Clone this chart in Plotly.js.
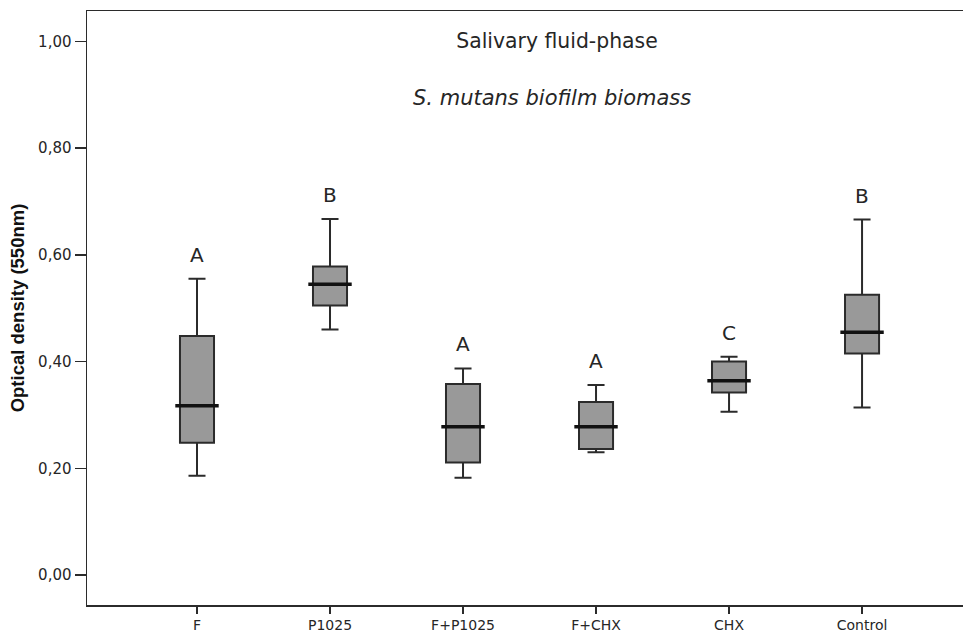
<!DOCTYPE html>
<html>
<head>
<meta charset="utf-8">
<script src="https://cdn.plot.ly/plotly-3.0.1.min.js"></script>
<style>html,body{margin:0;padding:0;background:#fff;}#chart{width:963px;height:633px;}</style>
</head>
<body>
<div id="chart"></div>
<script>
// Data
const categories = ['F', 'P1025', 'F+P1025', 'F+CHX', 'CHX', 'Control'];
const lowerWhisker = [0.186, 0.460, 0.182, 0.230, 0.306, 0.314];
const q1Values     = [0.248, 0.505, 0.211, 0.236, 0.342, 0.415];
const medianValues = [0.317, 0.545, 0.278, 0.278, 0.364, 0.455];
const q3Values     = [0.448, 0.578, 0.358, 0.324, 0.400, 0.525];
const upperWhisker = [0.555, 0.667, 0.387, 0.356, 0.409, 0.666];
const groupLetters = ['A', 'B', 'A', 'A', 'C', 'B'];
const yTickValues  = [0, 0.2, 0.4, 0.6, 0.8, 1.0];

const txt = '#262626';
const lineC = '#2b2b2b';

const boxTrace = {
  type: 'box',
  x: categories,
  q1: q1Values,
  median: medianValues,
  q3: q3Values,
  lowerfence: lowerWhisker,
  upperfence: upperWhisker,
  fillcolor: '#999999',
  line: {color: lineC, width: 2},
  whiskerwidth: 0.5,
  width: 0.256,
  boxpoints: false,
  hoverinfo: 'skip',
  showlegend: false
};

const medianTrace = {
  type: 'scatter',
  mode: 'markers',
  x: categories,
  y: medianValues,
  marker: {symbol: 'line-ew', size: 31, line: {color: '#111111', width: 3.5}},
  hoverinfo: 'skip',
  showlegend: false
};

const letterAnnotations = categories.map((c, i) => ({
  x: c, y: upperWhisker[i], xref: 'x', yref: 'y',
  text: groupLetters[i], showarrow: false,
  yanchor: 'middle', yshift: 24,
  font: {family: 'DejaVu Sans', size: 20, color: txt}
}));

const layout = {
  width: 963, height: 633,
  margin: {l: 87, r: 0, t: 11, b: 28},
  paper_bgcolor: '#ffffff', plot_bgcolor: '#ffffff',
  separators: ',.',
  showlegend: false,
  title: {
    text: 'Salivary fluid-phase',
    x: 557 / 963, xanchor: 'center', xref: 'container',
    y: 1 - 41 / 633, yanchor: 'middle', yref: 'container',
    font: {family: 'DejaVu Sans', size: 20.4, color: txt}
  },
  xaxis: {
    type: 'category',
    range: [-0.827, 5.759],
    showline: true, linecolor: lineC, linewidth: 1.5, mirror: true,
    ticks: 'outside', ticklen: 7, tickwidth: 1.5, tickcolor: lineC,
    showgrid: false, zeroline: false,
    tickfont: {family: 'DejaVu Sans', size: 14, color: txt}
  },
  yaxis: {
    range: [-0.0562, 1.0568],
    tickvals: yTickValues,
    tickformat: '.2f',
    showline: true, linecolor: lineC, linewidth: 1.5, mirror: false,
    ticks: 'outside', ticklen: 11, tickwidth: 1.5, tickcolor: lineC,
    showgrid: false, zeroline: false,
    tickfont: {family: 'DejaVu Sans', size: 15, color: txt},
    title: {
      text: '<b>Optical density (550nm)</b>',
      standoff: 8,
      font: {family: 'Liberation Sans', size: 18.5, color: '#111111'}
    }
  },
  annotations: [
    {
      xref: 'paper', yref: 'paper', x: (552 - 87) / 876, y: (605 - 98) / 594,
      xanchor: 'center', yanchor: 'middle', showarrow: false,
      text: 'S. mutans biofilm biomass',
      font: {family: 'DejaVu Sans', size: 21, style: 'italic', color: txt}
    }
  ].concat(letterAnnotations)
};

Plotly.newPlot('chart', [boxTrace, medianTrace], layout, {displayModeBar: false, staticPlot: true});
</script>
</body>
</html>
